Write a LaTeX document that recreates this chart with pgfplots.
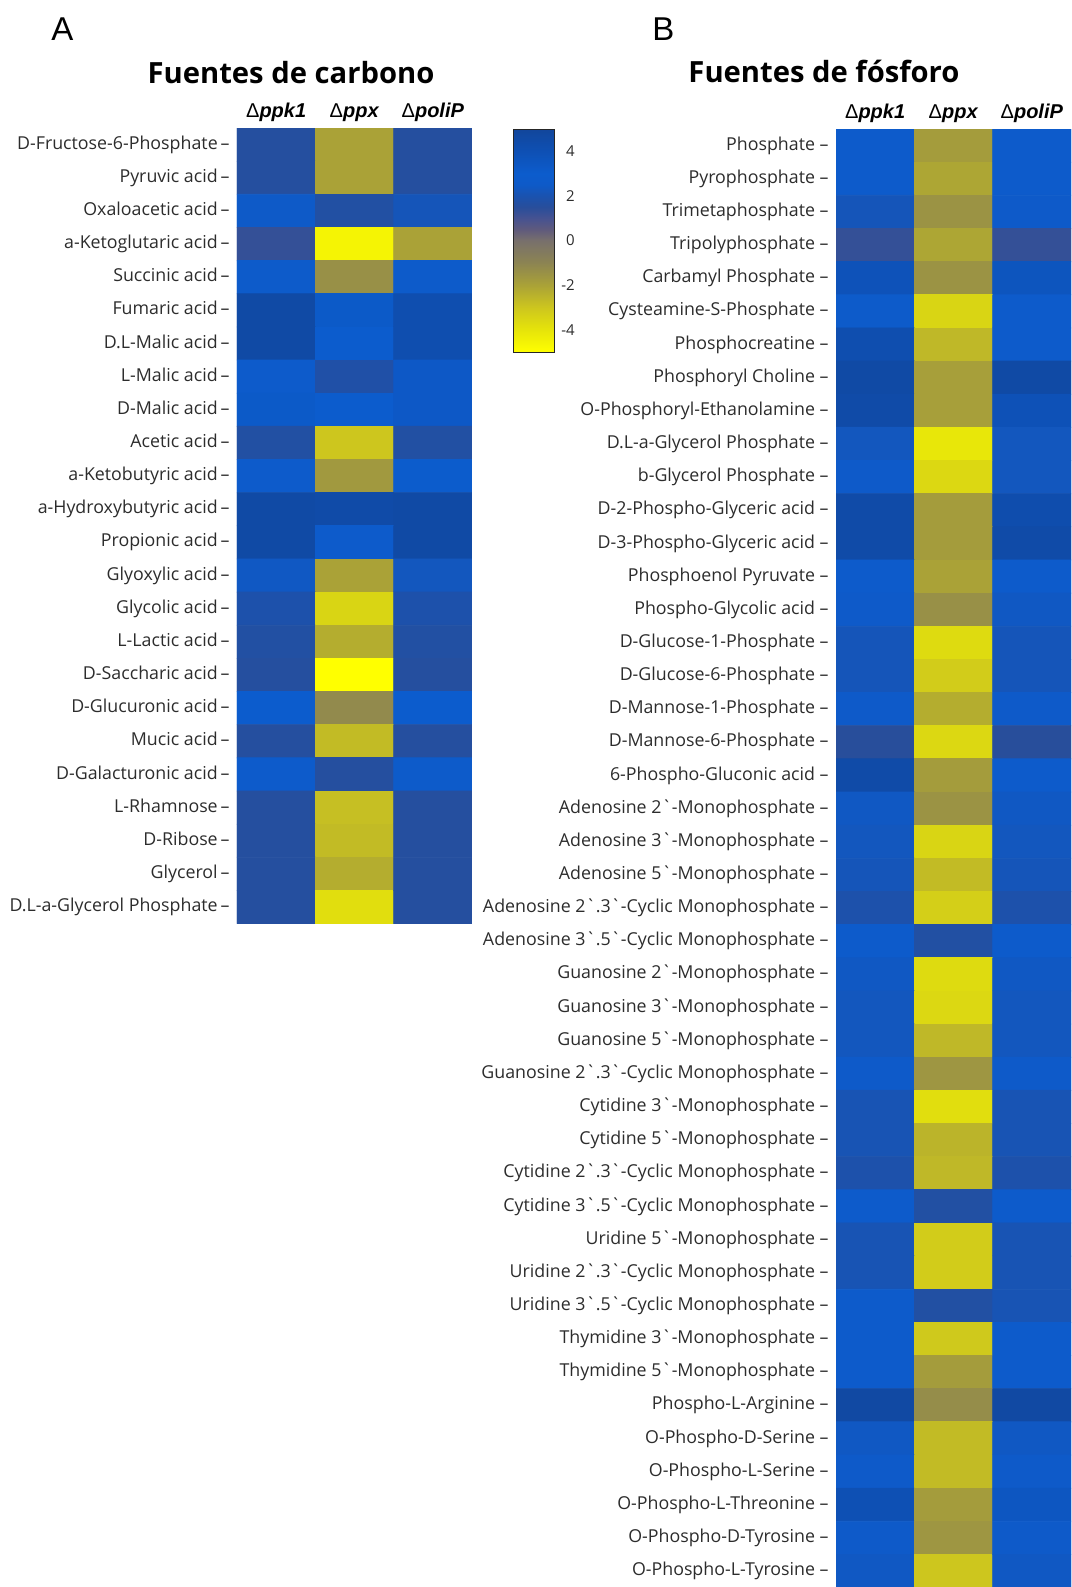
\documentclass[border=0pt]{standalone}
\usepackage{fontspec}
\setmainfont{Open Sans}
\newfontfamily\lsans{Liberation Sans}
\newfontfamily\rawsans{Open Sans}[Ligatures=ResetAll]
\usepackage{pgfplots}
\pgfplotsset{compat=1.18}
% literal grave accent (no TeX quote mapping)
\newcommand\bq{{\rawsans\symbol{96}}}
\definecolor{labelgray}{HTML}{2C2C2C}

\pgfplotsset{
  colormap={bgy}{rgb255(0cm)=(255,255,0); rgb255(2cm)=(230,228,10); rgb255(4cm)=(205,198,30);
    rgb255(6cm)=(170,162,55); rgb255(8cm)=(140,132,82); rgb255(10cm)=(120,112,108);
    rgb255(11cm)=(95,90,125); rgb255(12cm)=(70,82,145); rgb255(13cm)=(40,78,155);
    rgb255(14cm)=(26,82,175); rgb255(15cm)=(14,90,200); rgb255(16cm)=(12,92,205);
    rgb255(18cm)=(14,80,180); rgb255(20cm)=(18,70,155)},
  hm/.style={
    scale only axis, width=117.5pt, enlargelimits=false,
    xmin=-0.5, xmax=2.5, y dir=reverse,
    axis line style={draw=none}, major tick length=0pt,
    xtick={0,1,2}, xticklabel pos=upper,
    xticklabels={{\lsans Δ\textbf{\textit{ppk1}}},{\lsans Δ\textbf{\textit{ppx}}},{\lsans Δ\textbf{\textit{poliP}}}},
    xticklabel style={font=\fontsize{10}{12}\selectfont, anchor=base, yshift=5.5pt, inner sep=0pt},
    yticklabel style={font=\fontsize{8.9}{10}\selectfont, text=labelgray, anchor=east,
      inner sep=0pt, xshift=-3.5pt, text height=6.4pt, text depth=1.8pt},
    colormap name=bgy, point meta min=-5, point meta max=5,
  },
}

\begin{document}
\begin{tikzpicture}
\path[use as bounding box] (0,0) rectangle (536pt,-793.5pt);

% panel letters and titles
\node[font=\lsans\fontsize{16.5}{19}\selectfont, anchor=base west, inner sep=0pt] at (25.5pt,-20pt) {A};
\node[font=\lsans\fontsize{16.5}{19}\selectfont, anchor=base west, inner sep=0pt] at (326pt,-20pt) {B};
\node[font=\fontsize{14.6}{17}\selectfont\bfseries, anchor=base, inner sep=0pt] at (145.5pt,-41.5pt) {Fuentes de carbono};
\node[font=\fontsize{14.6}{17}\selectfont\bfseries, anchor=base, inner sep=0pt] at (412pt,-41pt) {Fuentes de fósforo};

% carbon sources
\begin{axis}[hm, at={(118.5pt,-64pt)}, anchor=north west, height=397.8pt,
  ymin=-0.5, ymax=23.5, ytick={0,...,23},
  yticklabels={{D-Fructose-6-Phosphate\,–},{Pyruvic acid\,–},{Oxaloacetic acid\,–},
    {a-Ketoglutaric acid\,–},{Succinic acid\,–},{Fumaric acid\,–},{D.L-Malic acid\,–},
    {L-Malic acid\,–},{D-Malic acid\,–},{Acetic acid\,–},{a-Ketobutyric acid\,–},
    {a-Hydroxybutyric acid\,–},{Propionic acid\,–},{Glyoxylic acid\,–},{Glycolic acid\,–},
    {L-Lactic acid\,–},{D-Saccharic acid\,–},{D-Glucuronic acid\,–},{Mucic acid\,–},
    {D-Galacturonic acid\,–},{L-Rhamnose\,–},{D-Ribose\,–},{Glycerol\,–},
    {D.L-a-Glycerol Phosphate\,–}},
  colorbar, colorbar/width=20.5pt,
  colorbar style={
    at={(parent axis.north east)}, anchor=north west, xshift=12pt, yshift=-0.5pt,
    height=111.5pt,
    ytick={-4,-2,0,2,4}, major tick length=0pt,
    axis line style={draw=black!85, line width=0.5pt},
    yticklabel style={font=\fontsize{7.5}{9}\selectfont, text=labelgray, anchor=east,
      inner sep=0pt, xshift=10.5pt, /pgf/number format/assume math mode=true},
  }]
\addplot[matrix plot*, mesh/cols=3, point meta=explicit]
  table[row sep=\\, x=c, y=r, meta=v] {
  c r v\\
  0 0 1.6\\ 1 0 -2.0\\ 2 0 1.6\\
  0 1 1.6\\ 1 1 -2.0\\ 2 1 1.6\\
  0 2 2.5\\ 1 2 1.7\\ 2 2 2.2\\
  0 3 1.3\\ 1 3 -4.6\\ 2 3 -2.0\\
  0 4 2.7\\ 1 4 -1.4\\ 2 4 2.7\\
  0 5 4.6\\ 1 5 3.2\\ 2 5 4.2\\
  0 6 4.6\\ 1 6 3.0\\ 2 6 4.2\\
  0 7 2.8\\ 1 7 1.8\\ 2 7 3.3\\
  0 8 3.2\\ 1 8 3.0\\ 2 8 3.3\\
  0 9 1.7\\ 1 9 -3.0\\ 2 9 1.7\\
  0 10 2.8\\ 1 10 -1.7\\ 2 10 2.9\\
  0 11 4.6\\ 1 11 4.5\\ 2 11 4.6\\
  0 12 4.6\\ 1 12 2.8\\ 2 12 4.6\\
  0 13 2.4\\ 1 13 -2.0\\ 2 13 2.3\\
  0 14 1.9\\ 1 14 -3.5\\ 2 14 1.9\\
  0 15 1.7\\ 1 15 -2.3\\ 2 15 1.7\\
  0 16 1.6\\ 1 16 -5.0\\ 2 16 1.6\\
  0 17 3.0\\ 1 17 -1.2\\ 2 17 3.0\\
  0 18 1.6\\ 1 18 -2.7\\ 2 18 1.6\\
  0 19 2.8\\ 1 19 1.6\\ 2 19 2.7\\
  0 20 1.6\\ 1 20 -2.8\\ 2 20 1.6\\
  0 21 1.6\\ 1 21 -2.7\\ 2 21 1.6\\
  0 22 1.6\\ 1 22 -2.3\\ 2 22 1.6\\
  0 23 1.6\\ 1 23 -3.8\\ 2 23 1.6\\
  };
\end{axis}

% phosphorus sources
\begin{axis}[hm, at={(418pt,-64.5pt)}, anchor=north west, height=729.3pt,
  ymin=-0.5, ymax=43.5, ytick={0,...,43},
  yticklabels={{Phosphate –},{Pyrophosphate –},{Trimetaphosphate –},{Tripolyphosphate –},
    {Carbamyl Phosphate –},{Cysteamine-S-Phosphate –},{Phosphocreatine –},
    {Phosphoryl Choline –},{O-Phosphoryl-Ethanolamine –},{D.L-a-Glycerol Phosphate –},
    {b-Glycerol Phosphate –},{D-2-Phospho-Glyceric acid –},{D-3-Phospho-Glyceric acid –},
    {Phosphoenol Pyruvate –},{Phospho-Glycolic acid –},{D-Glucose-1-Phosphate –},
    {D-Glucose-6-Phosphate –},{D-Mannose-1-Phosphate –},{D-Mannose-6-Phosphate –},
    {6-Phospho-Gluconic acid –},{Adenosine 2\bq-Monophosphate –},
    {Adenosine 3\bq-Monophosphate –},{Adenosine 5\bq-Monophosphate –},
    {Adenosine 2\bq.3\bq-Cyclic Monophosphate –},{Adenosine 3\bq.5\bq-Cyclic Monophosphate –},
    {Guanosine 2\bq-Monophosphate –},{Guanosine 3\bq-Monophosphate –},
    {Guanosine 5\bq-Monophosphate –},{Guanosine 2\bq.3\bq-Cyclic Monophosphate –},
    {Cytidine 3\bq-Monophosphate –},{Cytidine 5\bq-Monophosphate –},
    {Cytidine 2\bq.3\bq-Cyclic Monophosphate –},{Cytidine 3\bq.5\bq-Cyclic Monophosphate –},
    {Uridine 5\bq-Monophosphate –},{Uridine 2\bq.3\bq-Cyclic Monophosphate –},
    {Uridine 3\bq.5\bq-Cyclic Monophosphate –},{Thymidine 3\bq-Monophosphate –},
    {Thymidine 5\bq-Monophosphate –},{Phospho-L-Arginine –},{O-Phospho-D-Serine –},
    {O-Phospho-L-Serine –},{O-Phospho-L-Threonine –},{O-Phospho-D-Tyrosine –},
    {O-Phospho-L-Tyrosine –}},
  ]
\addplot[matrix plot*, mesh/cols=3, point meta=explicit]
  table[row sep=\\, x=c, y=r, meta=v] {
  c r v\\
  0 0 2.8\\ 1 0 -1.8\\ 2 0 2.8\\
  0 1 2.8\\ 1 1 -2.1\\ 2 1 2.8\\
  0 2 2.2\\ 1 2 -1.5\\ 2 2 2.6\\
  0 3 1.3\\ 1 3 -2.1\\ 2 3 1.3\\
  0 4 3.8\\ 1 4 -1.5\\ 2 4 3.6\\
  0 5 2.7\\ 1 5 -3.5\\ 2 5 2.8\\
  0 6 4.2\\ 1 6 -2.6\\ 2 6 2.8\\
  0 7 4.6\\ 1 7 -1.9\\ 2 7 4.6\\
  0 8 4.5\\ 1 8 -1.9\\ 2 8 3.9\\
  0 9 2.3\\ 1 9 -4.1\\ 2 9 2.3\\
  0 10 2.6\\ 1 10 -3.6\\ 2 10 2.3\\
  0 11 4.5\\ 1 11 -1.8\\ 2 11 4.3\\
  0 12 4.5\\ 1 12 -1.8\\ 2 12 4.5\\
  0 13 2.8\\ 1 13 -2.0\\ 2 13 2.8\\
  0 14 2.6\\ 1 14 -1.4\\ 2 14 2.4\\
  0 15 2.2\\ 1 15 -3.7\\ 2 15 2.2\\
  0 16 2.2\\ 1 16 -3.2\\ 2 16 2.2\\
  0 17 2.6\\ 1 17 -2.3\\ 2 17 2.6\\
  0 18 1.5\\ 1 18 -3.6\\ 2 18 1.5\\
  0 19 4.5\\ 1 19 -1.8\\ 2 19 2.8\\
  0 20 2.4\\ 1 20 -1.5\\ 2 20 2.4\\
  0 21 2.3\\ 1 21 -3.5\\ 2 21 2.3\\
  0 22 2.2\\ 1 22 -2.7\\ 2 22 2.2\\
  0 23 1.9\\ 1 23 -3.3\\ 2 23 1.9\\
  0 24 2.8\\ 1 24 1.7\\ 2 24 2.8\\
  0 25 2.4\\ 1 25 -3.7\\ 2 25 2.4\\
  0 26 2.3\\ 1 26 -3.6\\ 2 26 2.3\\
  0 27 2.3\\ 1 27 -2.6\\ 2 27 2.3\\
  0 28 2.6\\ 1 28 -1.6\\ 2 28 2.6\\
  0 29 2.1\\ 1 29 -3.8\\ 2 29 2.1\\
  0 30 2.1\\ 1 30 -2.5\\ 2 30 2.1\\
  0 31 1.9\\ 1 31 -2.6\\ 2 31 1.9\\
  0 32 2.8\\ 1 32 1.7\\ 2 32 2.8\\
  0 33 2.1\\ 1 33 -3.2\\ 2 33 2.1\\
  0 34 2.1\\ 1 34 -3.2\\ 2 34 2.1\\
  0 35 2.8\\ 1 35 1.7\\ 2 35 2.1\\
  0 36 2.8\\ 1 36 -3.1\\ 2 36 2.8\\
  0 37 2.8\\ 1 37 -1.8\\ 2 37 2.8\\
  0 38 4.7\\ 1 38 -1.3\\ 2 38 4.7\\
  0 39 2.4\\ 1 39 -2.7\\ 2 39 2.4\\
  0 40 2.6\\ 1 40 -2.7\\ 2 40 2.6\\
  0 41 4.0\\ 1 41 -1.8\\ 2 41 3.5\\
  0 42 2.6\\ 1 42 -1.6\\ 2 42 2.6\\
  0 43 2.4\\ 1 43 -3.0\\ 2 43 2.4\\
  };
\end{axis}
\end{tikzpicture}
\end{document}
